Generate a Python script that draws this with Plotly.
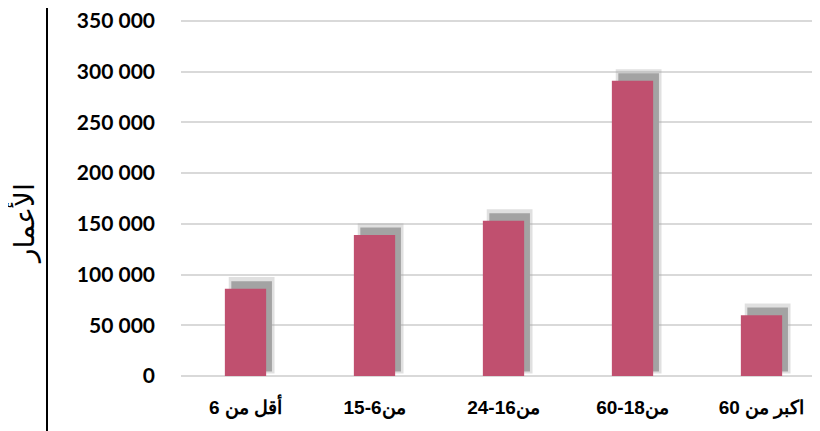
import plotly.graph_objects as go

categories = ["أقل من 6", "من6-15", "من16-24", "من18-60", "اكبر من 60"]
values = [86000, 139000, 153000, 291000, 60000]
y_ticks = [0, 50000, 100000, 150000, 200000, 250000, 300000, 350000]
y_title = "الأعمار"

bar_color = "#C0506F"
shadow_color = "#A3A3A3"

fig = go.Figure()

# soft outer shadow (blur edge)
fig.add_trace(go.Bar(
    x=categories, y=[v + 9000 for v in values], base=[2500] * len(values),
    width=0.355, offset=-0.13, marker=dict(color="rgba(165,165,165,0.35)", line=dict(width=0)),
    hoverinfo="skip", showlegend=False))
# shadow core
fig.add_trace(go.Bar(
    x=categories, y=[v + 3000 for v in values], base=[4500] * len(values),
    width=0.315, offset=-0.11, marker=dict(color=shadow_color, line=dict(width=0)),
    hoverinfo="skip", showlegend=False))
# main bars
fig.add_trace(go.Bar(
    x=categories, y=values, width=0.32, offset=-0.16,
    marker=dict(color=bar_color, line=dict(width=0)), showlegend=False))

L, T, PW, PH = 173, 10, 639, 358
ymax = 350000 * PH / 355

fig.update_layout(
    width=820, height=431,
    margin=dict(l=L, r=820 - L - PW, t=T, b=431 - T - PH, autoexpand=False),
    paper_bgcolor="white", plot_bgcolor="white",
    barmode="overlay",
    separators=", ",
    xaxis=dict(
        type="category", range=[-0.5, -0.5 + PW / 129], automargin=False,
        showgrid=False, zeroline=False, showline=False, ticks="",
        tickfont=dict(family="Liberation Sans, Arial", size=19, color="black", weight="bold"),
        ticklabelstandoff=18,
    ),
    yaxis=dict(
        range=[0, ymax], tickvals=y_ticks, tickformat=",d", automargin=False,
        showgrid=True, gridcolor="#D9D9D9", gridwidth=2,
        zeroline=True, zerolinecolor="#D9D9D9", zerolinewidth=2,
        showline=False, ticks="", ticklabeloverflow="allow",
        tickfont=dict(family="Lato, Open Sans, sans-serif", size=21, color="black", weight="bold"),
        ticklabelstandoff=25,
    ),
    shapes=[dict(type="line", xref="paper", yref="paper",
                 x0=(39 - L) / PW, x1=(39 - L) / PW,
                 y0=-80 / PH, y1=1 + 30 / PH,
                 line=dict(color="black", width=2))],
    annotations=[dict(text=y_title, xref="paper", yref="paper",
                      x=(15 - L) / PW, y=(T + PH - 216) / PH,
                      xanchor="center", yanchor="middle", textangle=-90,
                      showarrow=False,
                      font=dict(family="DejaVu Sans", size=28, color="black"))],
)

fig.write_html("out.html")
